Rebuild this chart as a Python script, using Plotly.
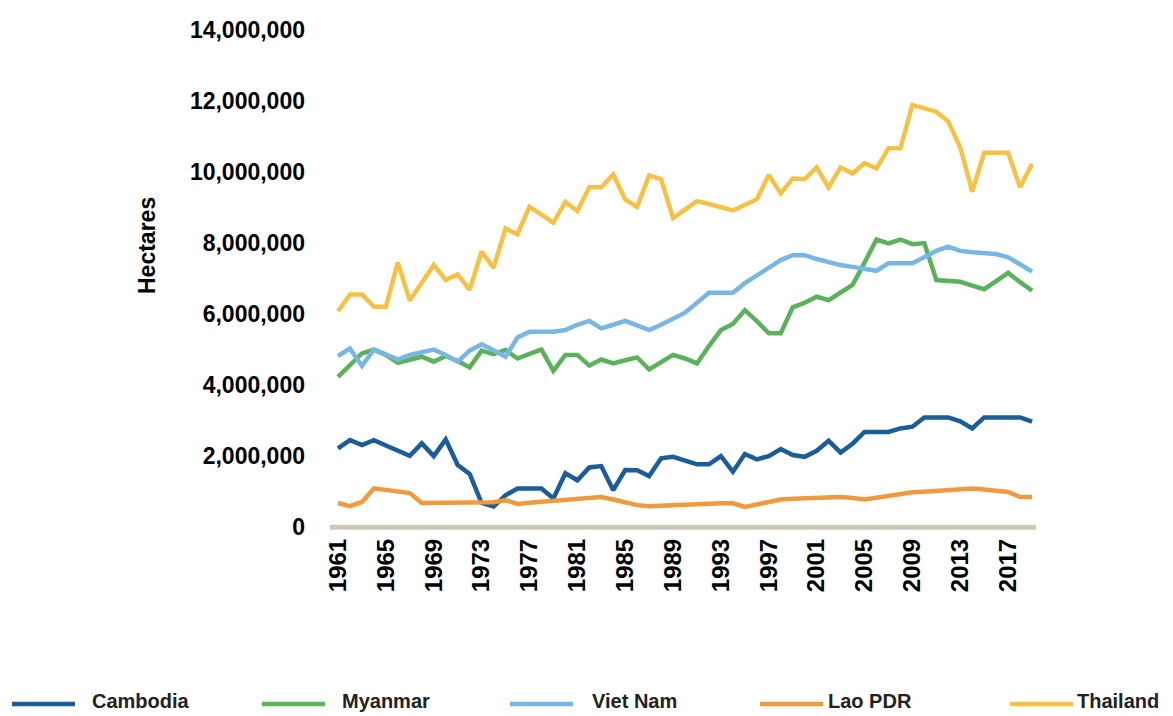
import plotly.graph_objects as go

# Rice area harvested (hectares), 1961-2019
years = list(range(1961, 2020))

cambodia = [2.22, 2.45, 2.31, 2.45, 2.30, 2.15, 2.01, 2.36, 2.00, 2.47,
            1.75, 1.50, 0.68, 0.58, 0.90, 1.09, 1.09, 1.09, 0.81, 1.52,
            1.32, 1.68, 1.72, 1.04, 1.61, 1.60, 1.44, 1.94, 1.98, 1.88,
            1.77, 1.77, 2.00, 1.56, 2.06, 1.91, 2.00, 2.20, 2.03, 1.98,
            2.15, 2.43, 2.10, 2.35, 2.68, 2.68, 2.68, 2.78, 2.83, 3.09,
            3.09, 3.09, 2.98, 2.78, 3.09, 3.09, 3.09, 3.09, 2.97]

myanmar = [4.23, 4.56, 4.89, 5.00, 4.85, 4.63, 4.72, 4.80, 4.66, 4.82,
           4.68, 4.50, 4.97, 4.87, 4.99, 4.75, 4.88, 5.00, 4.40, 4.85,
           4.85, 4.55, 4.72, 4.61, 4.70, 4.78, 4.44, 4.65, 4.85, 4.75,
           4.61, 5.10, 5.55, 5.72, 6.11, 5.80, 5.46, 5.46, 6.19, 6.32,
           6.49, 6.39, 6.60, 6.82, 7.45, 8.10, 7.99, 8.10, 7.97, 8.00,
           6.96, 6.94, 6.91, 6.80, 6.70, 6.93, 7.16, 6.90, 6.66]

viet_nam = [4.82, 5.03, 4.54, 5.00, 4.87, 4.72, 4.85, 4.94, 5.00, 4.85,
            4.66, 4.97, 5.15, 4.98, 4.80, 5.34, 5.50, 5.50, 5.50, 5.55,
            5.70, 5.81, 5.60, 5.70, 5.81, 5.68, 5.55, 5.70, 5.88, 6.04,
            6.32, 6.60, 6.60, 6.60, 6.87, 7.09, 7.30, 7.52, 7.66, 7.66,
            7.55, 7.45, 7.38, 7.33, 7.28, 7.22, 7.43, 7.43, 7.43, 7.60,
            7.78, 7.90, 7.78, 7.74, 7.72, 7.69, 7.60, 7.40, 7.20]

lao_pdr = [0.68, 0.59, 0.71, 1.09, 1.05, 1.01, 0.96, 0.68, 0.68, 0.68,
           0.68, 0.68, 0.68, 0.70, 0.76, 0.65, 0.69, 0.72, 0.76, 0.79,
           0.81, 0.83, 0.85, 0.78, 0.70, 0.62, 0.59, 0.61, 0.63, 0.65,
           0.65, 0.66, 0.67, 0.67, 0.57, 0.64, 0.71, 0.78, 0.80, 0.81,
           0.82, 0.84, 0.85, 0.82, 0.78, 0.83, 0.88, 0.94, 0.98, 1.00,
           1.02, 1.05, 1.07, 1.09, 1.06, 1.02, 0.99, 0.85, 0.85]

thailand = [6.08, 6.55, 6.55, 6.21, 6.21, 7.45, 6.38, 6.90, 7.38, 6.96,
            7.12, 6.68, 7.76, 7.30, 8.41, 8.25, 9.02, 8.80, 8.57, 9.16,
            8.90, 9.57, 9.57, 9.93, 9.23, 9.02, 9.90, 9.80, 8.70, 8.94,
            9.18, 9.10, 9.00, 8.92, 9.07, 9.23, 9.92, 9.40, 9.82, 9.80,
            10.13, 9.57, 10.13, 9.96, 10.25, 10.10, 10.67, 10.67, 11.89, 11.80,
            11.70, 11.42, 10.70, 9.45, 10.54, 10.54, 10.54, 9.57, 10.23]

series_names = ["Cambodia", "Myanmar", "Viet Nam", "Lao PDR", "Thailand"]
series_values = [cambodia, myanmar, viet_nam, lao_pdr, thailand]
series_colors = ["#1a5d98", "#5cb25a", "#78b7e5", "#f09a3f", "#f6c246"]

y_ticks = list(range(0, 14000001, 2000000))
x_ticks = list(range(1961, 2018, 4))

FONT = "Liberation Sans, Arial, Helvetica, sans-serif"

fig = go.Figure()
for name, vals, color in zip(series_names, series_values, series_colors):
    fig.add_trace(go.Scatter(
        x=years,
        y=[v * 1_000_000 for v in vals],
        mode="lines",
        name=name,
        line=dict(color=color, width=4.5),
        showlegend=False,
    ))

# plot-area pixel geometry, used to lay out the hand-drawn legend
W, H = 1173, 716
L, R, T, B = 330, 137, 30, 186
plot_w = W - L - R
plot_h = H - T - B


def px_x(px):
    return (px - L) / plot_w


def px_y(py):
    return (H - B - py) / plot_h


shapes = [
    # base line along zero
    dict(type="line", xref="x", yref="y", x0=1960.3, x1=2019.35, y0=0, y1=0,
         line=dict(color="#cfc7b9", width=5), layer="below"),
]
annotations = [
    dict(text="Hectares", xref="paper", yref="paper", x=px_x(147), y=px_y(245),
         textangle=-90, showarrow=False, xanchor="center", yanchor="middle",
         font=dict(family=FONT, size=23, color="#000000", weight="bold")),
]

legend_line_x = [12, 262, 510, 760, 1010]
legend_text_x = [90, 340, 590, 826, 1075]
legend_line_y = 704
legend_text_y = 701
for name, color, lx, tx in zip(series_names, series_colors, legend_line_x, legend_text_x):
    shapes.append(dict(type="line", xref="paper", yref="paper",
                       x0=px_x(lx), x1=px_x(lx + 63), y0=px_y(legend_line_y), y1=px_y(legend_line_y),
                       line=dict(color=color, width=4.5)))
    annotations.append(dict(text=name, xref="paper", yref="paper",
                            x=px_x(tx), y=px_y(legend_text_y), showarrow=False,
                            xanchor="left", yanchor="middle",
                            font=dict(family=FONT, size=20, color="#222222", weight="bold")))

fig.update_layout(
    width=W, height=H,
    margin=dict(l=L, r=R, t=T, b=B),
    paper_bgcolor="white",
    plot_bgcolor="white",
    showlegend=False,
    shapes=shapes,
    annotations=annotations,
    xaxis=dict(
        range=[1960.33, 2019.33],
        tickvals=x_ticks,
        ticktext=[str(y) for y in x_ticks],
        tickangle=-90,
        showgrid=False, zeroline=False, showline=False,
        ticks="", ticklabelstandoff=3,
        tickfont=dict(family=FONT, size=24, color="#000000", weight="bold"),
    ),
    yaxis=dict(
        range=[-80000, 14000000],
        tickvals=y_ticks,
        ticktext=[f"{v:,}" for v in y_ticks],
        showgrid=False, zeroline=False, showline=False,
        ticks="", ticklabelstandoff=24,
        tickfont=dict(family=FONT, size=23, color="#000000", weight="bold"),
    ),
)

fig.write_html("out.html")
